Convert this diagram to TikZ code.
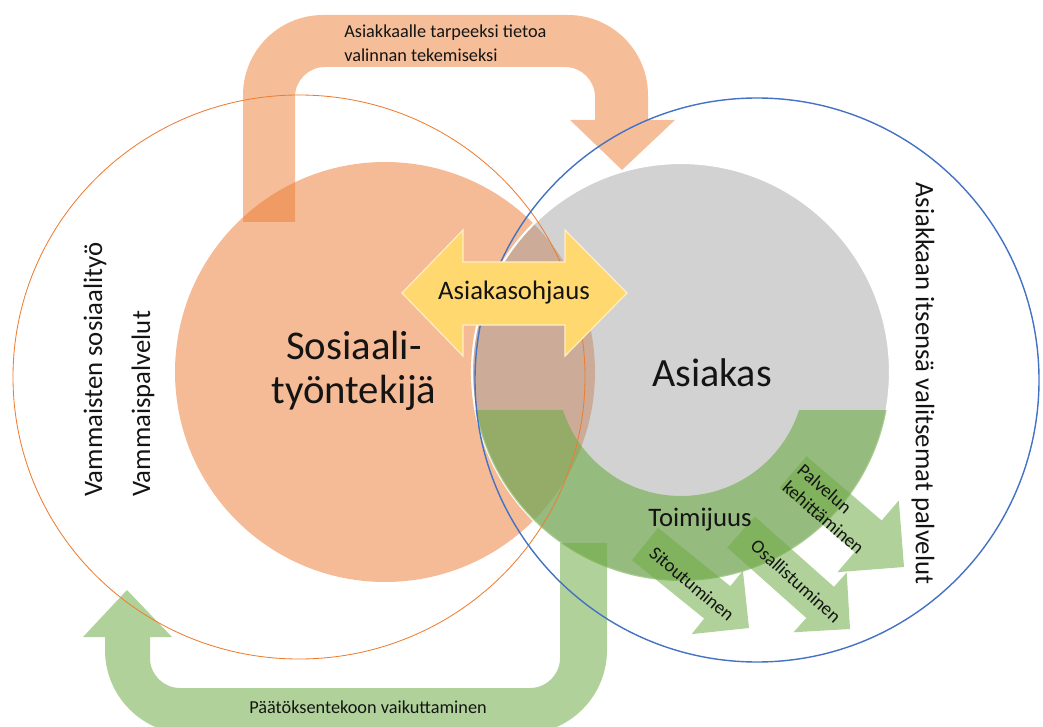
\documentclass[tikz,border=0pt]{standalone}
\usepackage{fontspec}
\setmainfont{Carlito}
\usepackage{tikz}
\usetikzlibrary{calc}
\definecolor{myorange}{RGB}{237,125,49}
\definecolor{mypeach}{RGB}{245,187,150}
\definecolor{myblue}{RGB}{68,114,196}
\definecolor{mygreen}{RGB}{112,173,71}
\definecolor{mygray}{RGB}{155,155,155}
\definecolor{myyellow}{RGB}{255,216,112}
\definecolor{mytext}{RGB}{20,20,20}
\tikzset{
  bigarrow/.style={fill=myorange, fill opacity=0.5},
  greenarrow/.style={fill=mygreen, fill opacity=0.55},
  ring/.style={fill=mygreen, fill opacity=0.6},
  txt/.style={text=mytext, inner sep=0pt, text opacity=1},
  fs/.style={font=\fontsize{#1}{\dimexpr#1*13/10\relax}\selectfont}
}
% small arrow from tail to tip, #3 = half width of the head
\newcommand{\smallarrow}[3]{%
  \coordinate (j) at ($(#2)!#3!(#1)$);
  \fill[greenarrow] ($(#1)!0.52cm!90:(#2)$) -- ($(j)!0.52cm!90:(#2)$) -- ($(j)!#3!90:(#2)$) -- (#2)
    -- ($(j)!#3!-90:(#2)$) -- ($(j)!0.52cm!-90:(#2)$) -- ($(#1)!0.52cm!-90:(#2)$) -- cycle;}
\begin{document}
\begin{tikzpicture}[x=0.025cm, y=-0.025cm]
  \useasboundingbox (0,0) rectangle (1043,727);
  \clip (0,0) rectangle (1043,727);

  % Circles
  \fill[mypeach] (385,372) circle[radius=210];
  \draw[white, line width=1.5pt, fill=mygray, fill opacity=0.45] (681,372) circle[radius=209];

  % Toimijuus ring
  \begin{scope}
    \clip (400,410) rectangle (950,650);
    \fill[ring, even odd rule] (681,372) circle[radius=209] (681,372) circle[radius=124];
  \end{scope}

  % Top arrow
  \fill[bigarrow] (243,222) -- (243,95) arc[start angle=180, end angle=270, radius=80]
    -- (568,15) arc[start angle=270, end angle=360, radius=80] -- (648,120) -- (675,120)
    -- (622,170) -- (570,120) -- (595,120) -- (595,97) arc[start angle=0, end angle=-90, radius=30]
    -- (325,67) arc[start angle=270, end angle=180, radius=30] -- (295,222) -- cycle;

  % Bottom arrow
  \fill[greenarrow] (560,543) -- (607,543) -- (607,650) arc[start angle=0, end angle=90, radius=84]
    -- (189,734) arc[start angle=90, end angle=180, radius=84] -- (105,637) -- (83,637)
    -- (127,590) -- (172,637) -- (150,637) -- (150,658) arc[start angle=180, end angle=90, radius=30]
    -- (530,688) arc[start angle=90, end angle=0, radius=30] -- cycle;

  % Small arrows
  \coordinate (t1) at (645,544); \coordinate (p1) at (749,628);
  \coordinate (t2) at (741,532); \coordinate (p2) at (850,629);
  \coordinate (t3) at (793,472); \coordinate (p3) at (904,567);
  \smallarrow{t1}{p1}{1.02cm}
  \smallarrow{t2}{p2}{1cm}
  \smallarrow{t3}{p3}{1.18cm}

  % Outer circles
  \draw[myorange, line width=0.6pt] (299,377) ellipse[x radius=286, y radius=282];
  \draw[myblue, line width=1pt] (757,380) circle[radius=282];

  % Double arrow
  \fill[myyellow, draw=white!60!myyellow, line width=0.8pt] (402,293) -- (463,230) -- (463,262) -- (565,262)
    -- (565,230) -- (627,293) -- (565,356) -- (565,325) -- (463,325) -- (463,356) -- cycle;

  % Labels
  \node[txt, font=\fontsize{29pt}{31pt}\selectfont, align=center] (worker) at (354,371) {Sosiaali-\\työntekijä};
  \node[txt, fs=28.5pt] (client) at (712,373) {Asiakas};
  \node[txt, fs=19pt] (guide) at (514,293) {Asiakasohjaus};
  \node[txt, fs=19pt] (agency) at (700,520) {Toimijuus};
  \node[txt, font=\fontsize{13pt}{17pt}\selectfont, align=left, anchor=west] (info) at (344,43) {Asiakkaalle tarpeeksi tietoa\\valinnan tekemiseksi};
  \node[txt, fs=13pt] (decide) at (368,707) {Päätöksentekoon vaikuttaminen};
  \node[txt, fs=19pt, rotate=90, anchor=west] (social) at (95,497) {Vammaisten sosiaalityö};
  \node[txt, fs=19pt, rotate=90, anchor=west] (services) at (143,497) {Vammaispalvelut};
  \node[txt, fs=19pt, rotate=-90, anchor=west] (own) at (923,182) {Asiakkaan itsensä valitsemat palvelut};
  \node[txt, fs=13.4pt, rotate=-40] (commit) at (692,584) {Sitoutuminen};
  \node[txt, fs=13.4pt, rotate=-42] (particip) at (796,581) {Osallistuminen};
  \node[txt, font=\fontsize{13.4pt}{16pt}\selectfont, rotate=-41, align=left] (develop) at (831,509) {Palvelun\\kehittäminen};
\end{tikzpicture}
\end{document}
